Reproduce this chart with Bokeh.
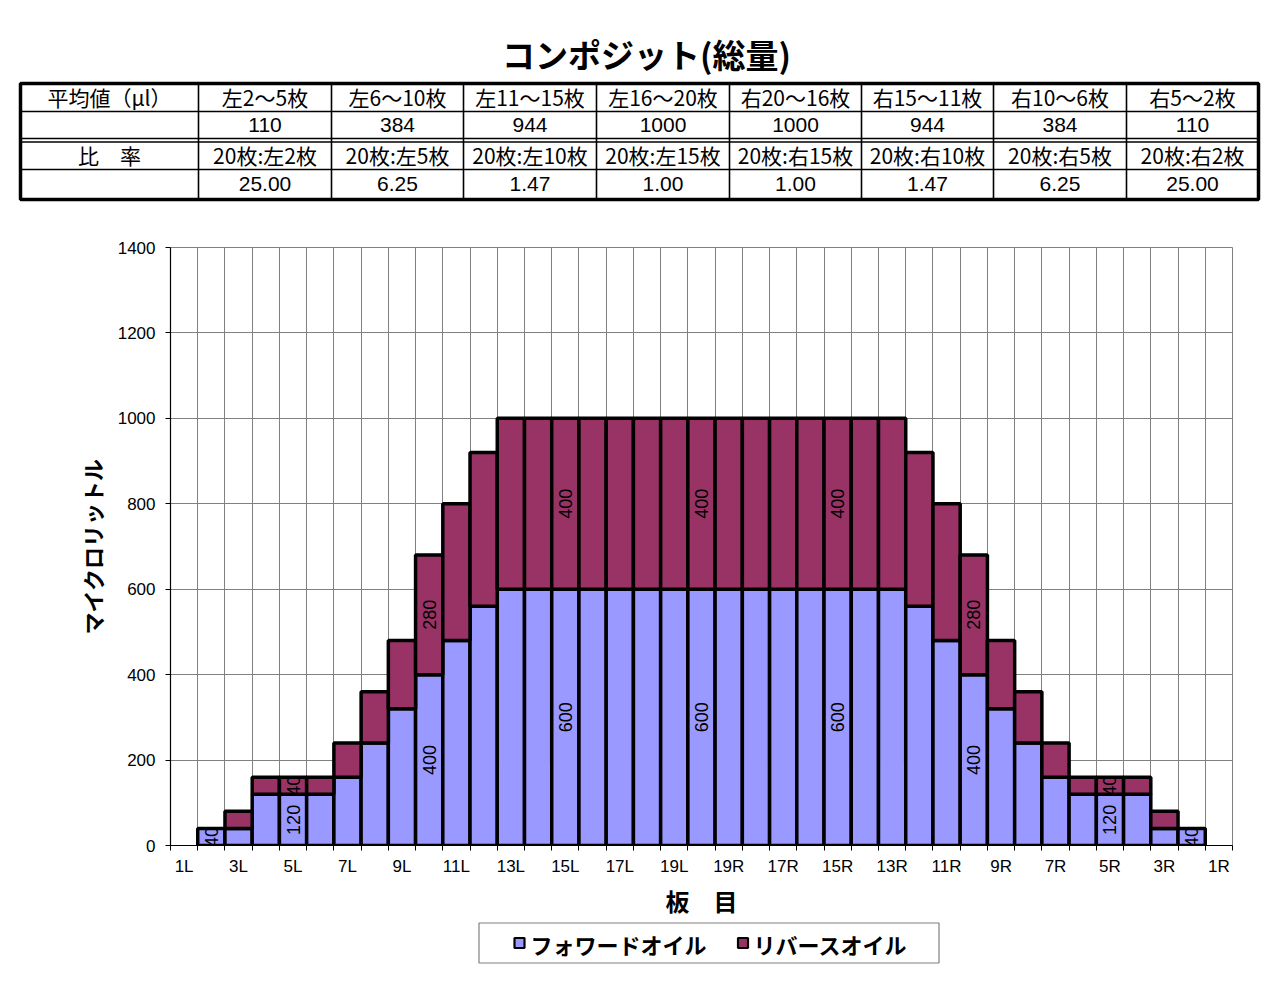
import math
from bokeh.plotting import figure
from bokeh.models import Range1d, FixedTicker, ColumnDataSource
from bokeh.embed import file_html
from bokeh.resources import INLINE
from bokeh.core.properties import value

# ---------------- data ----------------
title_text = "コンポジット(総量)"
row_head_avg = "平均値（μl）"
row_head_ratio = "比　率"
zone_labels = ["左2～5枚", "左6～10枚", "左11～15枚", "左16～20枚",
               "右20～16枚", "右15～11枚", "右10～6枚", "右5～2枚"]
zone_averages = [110, 384, 944, 1000, 1000, 944, 384, 110]
ratio_labels = ["20枚:左2枚", "20枚:左5枚", "20枚:左10枚", "20枚:左15枚",
                "20枚:右15枚", "20枚:右10枚", "20枚:右5枚", "20枚:右2枚"]
ratio_values = ["25.00", "6.25", "1.47", "1.00", "1.00", "1.47", "6.25", "25.00"]

boards = ["1L", "2L", "3L", "4L", "5L", "6L", "7L", "8L", "9L", "10L",
          "11L", "12L", "13L", "14L", "15L", "16L", "17L", "18L", "19L", "20",
          "19R", "18R", "17R", "16R", "15R", "14R", "13R", "12R", "11R", "10R",
          "9R", "8R", "7R", "6R", "5R", "4R", "3R", "2R", "1R"]
forward_oil = [0, 40, 40, 120, 120, 120, 160, 240, 320, 400,
               480, 560, 600, 600, 600, 600, 600, 600, 600, 600,
               600, 600, 600, 600, 600, 600, 600, 560, 480, 400,
               320, 240, 160, 120, 120, 120, 40, 40, 0]
reverse_oil = [0, 0, 40, 40, 40, 40, 80, 120, 160, 280,
               320, 360, 400, 400, 400, 400, 400, 400, 400, 400,
               400, 400, 400, 400, 400, 400, 400, 360, 320, 280,
               160, 120, 80, 40, 40, 40, 40, 0, 0]
forward_label_boards = [1, 4, 9, 14, 19, 24, 29, 34, 37]
reverse_label_boards = [4, 9, 14, 19, 24, 29, 34]
y_ticks = [0, 200, 400, 600, 800, 1000, 1200, 1400]
series_names = ["フォワードオイル", "リバースオイル"]
y_title = "マイクロリットル"
x_title = "板　目"

BLUE = "#9999FF"
RED = "#993366"
JP = value("Noto Sans CJK JP")
AR = value("Liberation Sans")

W = 1280
TABLE_H = 208
CHART_H = 713
LEG_TOP = TABLE_H + CHART_H
LEG_H = 1000 - LEG_TOP

# ---------------- table figure (page coords) ----------------
t = figure(width=W, height=TABLE_H, x_range=Range1d(0, W), y_range=Range1d(TABLE_H, 0),
           x_axis_type=None, y_axis_type=None, output_backend="svg",
           toolbar_location=None, min_border=0)
t.outline_line_color = None
t.grid.visible = False

t.text(x=[646], y=[53], text=[title_text], text_font=JP, text_font_style="bold",
       text_font_size="33px", text_align="center", text_baseline="middle", text_color="black")

edges = [20, 198, 331, 463, 596, 729, 861, 993, 1126, 1258]
top, r1, r2a, r2b, r3, bottom = 83, 111, 138, 141.5, 169, 199
t.segment(x0=[edges[0]] * 4, x1=[edges[-1]] * 4, y0=[r1, r2a, r2b, r3], y1=[r1, r2a, r2b, r3],
          line_color="black", line_width=1.6)
t.segment(x0=edges[1:-1], x1=edges[1:-1], y0=[top] * 8, y1=[bottom] * 8,
          line_color="black", line_width=1.6)
t.quad(left=[edges[0]], right=[edges[-1]], top=[top], bottom=[bottom],
       fill_color=None, line_color="black", line_width=3.5)

col_centers = [(edges[i] + edges[i + 1]) / 2 for i in range(9)]
y_r1, y_r2, y_r3, y_r4 = 96.5, 124, 154.5, 183
t.text(x=[col_centers[0]], y=[y_r1], text=[row_head_avg], text_font=JP, text_font_size="21px",
       text_align="center", text_baseline="middle", text_color="black")
t.text(x=[col_centers[0]], y=[y_r3], text=[row_head_ratio], text_font=JP, text_font_size="21px",
       text_align="center", text_baseline="middle", text_color="black")
t.text(x=col_centers[1:], y=[y_r1] * 8, text=zone_labels, text_font=JP, text_font_size="21px",
       text_align="center", text_baseline="middle", text_color="black")
t.text(x=col_centers[1:], y=[y_r2] * 8, text=[str(v) for v in zone_averages], text_font=AR,
       text_font_size="21px", text_align="center", text_baseline="middle", text_color="black")
t.text(x=col_centers[1:], y=[y_r3] * 8, text=ratio_labels, text_font=JP, text_font_size="21px",
       text_align="center", text_baseline="middle", text_color="black")
t.text(x=col_centers[1:], y=[y_r4] * 8, text=ratio_values, text_font=AR,
       text_font_size="21px", text_align="center", text_baseline="middle", text_color="black")

# ---------------- chart figure ----------------
n = len(boards)
p = figure(width=W, height=CHART_H, x_range=Range1d(-0.5, n - 0.5), y_range=Range1d(0, 1400),
           output_backend="svg", toolbar_location=None,
           min_border_left=170, min_border_right=48, min_border_top=39, min_border_bottom=76)
p.background_fill_color = "white"
p.border_fill_color = "white"
p.outline_line_color = "#808080"

idx = list(range(n))
fwd_src = ColumnDataSource(dict(
    x=[i for i in idx if forward_oil[i] > 0],
    top=[forward_oil[i] for i in idx if forward_oil[i] > 0]))
rev_src = ColumnDataSource(dict(
    x=[i for i in idx if reverse_oil[i] > 0],
    bottom=[forward_oil[i] for i in idx if reverse_oil[i] > 0],
    top=[forward_oil[i] + reverse_oil[i] for i in idx if reverse_oil[i] > 0]))

p.vbar(x="x", width=1, bottom=0, top="top", source=fwd_src,
       fill_color=BLUE, line_color="black", line_width=3.5)
p.vbar(x="x", width=1, bottom="bottom", top="top", source=rev_src,
       fill_color=RED, line_color="black", line_width=3.5)

lab_x = forward_label_boards + reverse_label_boards
lab_y = [forward_oil[i] / 2 for i in forward_label_boards] + \
        [forward_oil[i] + reverse_oil[i] / 2 for i in reverse_label_boards]
lab_t = [str(forward_oil[i]) for i in forward_label_boards] + \
        [str(reverse_oil[i]) for i in reverse_label_boards]
p.text(x=lab_x, y=lab_y, text=lab_t, angle=math.pi / 2, text_font=AR, text_font_size="18px",
       text_align="center", text_baseline="middle", text_color="black")

label_ticks = list(range(0, n, 2))
p.xaxis.ticker = FixedTicker(ticks=label_ticks, minor_ticks=[i - 0.5 for i in range(n + 1)])
p.xaxis.major_label_overrides = {i: boards[i] for i in label_ticks}
p.xaxis.major_tick_out = 0
p.xaxis.major_tick_in = 0
p.xaxis.minor_tick_out = 5
p.xaxis.minor_tick_in = 0
p.xaxis.minor_tick_line_color = "black"
p.xaxis.major_label_standoff = 6
p.xgrid.grid_line_color = None
p.xgrid.minor_grid_line_color = "#808080"
p.xgrid.minor_grid_line_width = 1

p.yaxis.ticker = FixedTicker(ticks=y_ticks, minor_ticks=[])
p.yaxis.major_tick_out = 5
p.yaxis.major_tick_in = 0
p.yaxis.major_label_standoff = 10
p.ygrid.grid_line_color = "#808080"
p.ygrid.grid_line_width = 1

for ax in (p.xaxis, p.yaxis):
    ax.axis_line_color = "black"
    ax.axis_line_width = 1.2
    ax.major_tick_line_color = "black"
    ax.major_label_text_font = "Liberation Sans"
    ax.major_label_text_font_size = "17px"
    ax.major_label_text_color = "black"
    ax.axis_label_text_font = "Noto Sans CJK JP"
    ax.axis_label_text_font_style = "bold"
    ax.axis_label_text_color = "black"

p.xaxis.axis_label = x_title
p.xaxis.axis_label_text_font_size = "24px"
p.xaxis.axis_label_standoff = 4
p.yaxis.axis_label = y_title
p.yaxis.axis_label_text_font_size = "22px"
p.yaxis.axis_label_standoff = 7

# ---------------- legend figure (page coords) ----------------
lg = figure(width=W, height=LEG_H, x_range=Range1d(0, W), y_range=Range1d(1000, LEG_TOP),
            x_axis_type=None, y_axis_type=None, output_backend="svg",
            toolbar_location=None, min_border=0)
lg.outline_line_color = None
lg.grid.visible = False
lg.quad(left=[478.5], right=[938.5], top=[922.5], bottom=[962.5],
        fill_color="white", line_color="#808080", line_width=1.2)
lg.rect(x=[519, 742.5], y=[942.5, 942.5], width=10, height=10,
        fill_color=[BLUE, RED], line_color="black", line_width=2.2)
lg.text(x=[530, 753], y=[943, 943], text=series_names, text_font=JP, text_font_style="bold",
        text_font_size="22px", text_align="left", text_baseline="middle", text_color="black")

open("out.html", "w").write(file_html([t, p, lg], INLINE))
